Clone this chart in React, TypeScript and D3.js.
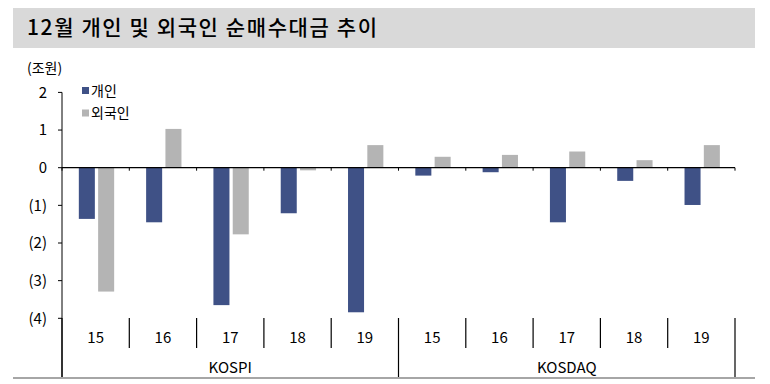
import React from 'react';
import * as d3 from 'd3';

const width = 770;
const height = 384;
const blue = '#3f5186';
const gray = '#b4b4b4';
const font = '"Noto Sans CJK KR", "Noto Sans", sans-serif';

const markets = ['KOSPI', 'KOSDAQ'];
const years = ['15', '16', '17', '18', '19'];
const series = ['개인', '외국인'];
// 순매수대금 (조원), KOSPI 15~19 then KOSDAQ 15~19
const individual = [-1.36, -1.45, -3.65, -1.21, -3.84, -0.21, -0.12, -1.45, -0.35, -0.99];
const foreign = [-3.29, 1.03, -1.77, -0.07, 0.6, 0.29, 0.34, 0.43, 0.2, 0.6];
const yTicks = [2, 1, 0, -1, -2, -3, -4];

const cats = markets.flatMap(m => years.map(y => `${m}-${y}`));

export default function App() {
  const x = d3.scaleBand().domain(cats).range([62, 735]).padding(0);
  const y = d3.scaleLinear().domain([-4, 2]).range([318.3, 92.4]);
  const bw = x.bandwidth();
  const inner = d3.scaleBand().domain(series).range([bw * 0.25, bw * 0.775]).paddingInner(0.17);
  const color = d3.scaleOrdinal<string, string>().domain(series).range([blue, gray]);
  const values = [individual, foreign];
  const fmt = (v: number) => (v < 0 ? `(${-v})` : `${v}`);
  const y0 = y(0);
  const axisBottom = 377;

  return (
    <svg width={width} height={height} style={{ position: 'absolute', left: 0, top: 0, background: '#fff' }} fontFamily={font}>
      {/* title */}
      <rect x={13} y={8} width={742} height={40} fill="#d9d9d9" />
      <text x={27} y={35} fontSize={21} fontWeight={500} fill="#000" textLength={350} lengthAdjust="spacing">12월 개인 및 외국인 순매수대금 추이</text>

      {/* unit */}
      <text x={27} y={73} fontSize={14}>(조원)</text>

      {/* legend */}
      {series.map((s, i) => (
        <g key={s} transform={`translate(82, ${87 + i * 22.5})`}>
          <rect width={7} height={7} fill={color(s)} />
          <text x={9} y={8.5} fontSize={14}>{s}</text>
        </g>
      ))}

      {/* bars */}
      {series.map((s, si) =>
        cats.map((c, ci) => {
          const v = values[si][ci];
          const top = y(Math.max(0, v));
          return (
            <rect key={`${s}-${c}`} x={(x(c) ?? 0) + (inner(s) ?? 0)} y={top}
              width={inner.bandwidth()} height={Math.abs(y(v) - y0)} fill={color(s)} />
          );
        })
      )}

      {/* y axis */}
      <line x1={62} x2={62} y1={y(2)} y2={axisBottom} stroke="#000" strokeWidth={1} />
      {yTicks.map(t => (
        <g key={t}>
          <line x1={58} x2={62} y1={y(t)} y2={y(t)} stroke="#000" />
          <text x={47} y={y(t)} dy="0.35em" textAnchor="end" fontSize={15}>{fmt(t)}</text>
        </g>
      ))}

      {/* zero line */}
      <line x1={62} x2={735} y1={y0} y2={y0} stroke="#000" strokeWidth={1.2} />
      {cats.concat(['end']).map((c, i) => {
        const xx = i < cats.length ? (x(c) ?? 0) : 735;
        return <line key={`zt-${c}`} x1={xx} x2={xx} y1={y0} y2={y0 + 3} stroke="#000" />;
      })}

      {/* category axis */}
      {cats.map((c, i) => {
        const xx = x(c) ?? 0;
        const groupEdge = i % years.length === 0;
        return (
          <g key={`cat-${c}`}>
            <line x1={xx} x2={xx} y1={318} y2={groupEdge ? axisBottom : 348} stroke="#000" strokeWidth={1.2} />
            <text x={xx + bw / 2} y={343} textAnchor="middle" fontSize={15}>{c.split('-')[1]}</text>
          </g>
        );
      })}
      <line x1={735} x2={735} y1={318} y2={axisBottom} stroke="#000" strokeWidth={1.2} />
      {markets.map(m => {
        const first = x(`${m}-${years[0]}`) ?? 0;
        return (
          <text key={m} x={first + (bw * years.length) / 2} y={373} textAnchor="middle" fontSize={15}>{m}</text>
        );
      })}

      {/* bottom rule */}
      <line x1={13} x2={755} y1={378} y2={378} stroke="#a6a6a6" strokeWidth={2} />
    </svg>
  );
}
